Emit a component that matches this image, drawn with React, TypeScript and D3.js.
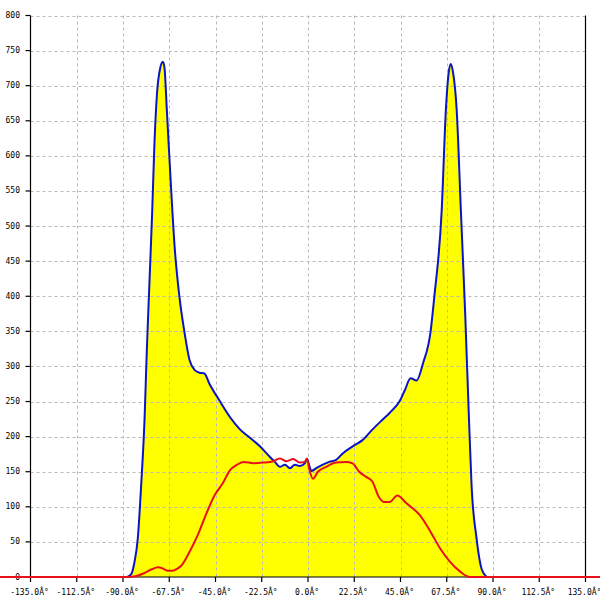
import React from "react";
import * as d3 from "d3";

// blue series: angle (deg) / count
const blueAngles = [
  -88, -86, -84.5, -82.8, -81.2, -79.5, -78.4, -77.1, -75.8, -74.7, -73.4, -71.9,
  -70.6, -69.8, -68.7, -66.9, -64.9, -62.5, -60.1, -57.7, -55.2, -52.8, -50.4,
  -47.9, -43, -38, -33, -28.1, -23.3, -18.5, -16.1, -13.7, -11.2, -8.8, -6.4, -4,
  -1.6, -0.5, 0.8, 1.6, 4, 7.2, 10.4, 13.7, 16.9, 21.7, 26.5, 31.3, 36.2, 39.8,
  44.7, 47.1, 49.9, 52.8, 56, 59.6, 61.4, 65, 67.1, 68.5, 69.5, 70.5, 72.3, 74.4,
  76.5, 78.3, 79.6, 82, 84.5, 86.9,
];
const blueValues = [
  0, 4, 20, 55, 129, 226, 324, 422, 520, 618, 691, 725, 734, 725, 667, 569, 471,
  398, 349, 310, 295, 291, 290, 275, 251, 228, 210, 198, 186, 171, 164, 157, 160,
  155, 160, 158, 162, 168, 157, 151, 155, 160, 164, 167, 176, 186, 195, 210, 224,
  234, 251, 266, 283, 280, 305, 349, 398, 520, 667, 720, 731, 720, 667, 520, 373,
  226, 129, 55, 11, 0,
];

// red series
const redAngles = [
  -150, -88, -84, -80, -76, -73, -70.5, -68.2, -66, -63.5, -61.7, -57.6, -53.6,
  -49.5, -45.5, -41.4, -38, -34.5, -31.3, -26.5, -21.7, -16.9, -13.7, -10.4, -7.2,
  -4, -1.6, -0.5, 0.5, 2.4, 4.8, 8.8, 13.7, 18.5, 21.7, 24.9, 28.1, 31.3, 34.5,
  36.9, 39.8, 43.4, 47.9, 54.4, 59.3, 64.2, 69, 73.9, 78.8, 150,
];
const redValues = [
  0, 0, 1, 5, 11, 14, 12, 9, 9, 12, 16, 36, 60, 90, 116, 134, 152, 160, 164, 162,
  163, 165, 169, 165, 168, 163, 164, 169, 155, 140, 150, 157, 163, 164, 162, 150,
  143, 136, 114, 107, 107, 116, 105, 88, 66, 41, 22, 8, 0, 0,
];

const xTicks = [-135, -112.5, -90, -67.5, -45, -22.5, 0, 22.5, 45, 67.5, 90, 112.5, 135];
const yTicks = d3.range(0, 801, 50);

const App: React.FC = () => {
  const width = 600;
  const height = 600;

  const x = d3.scaleLinear().domain([-135, 135]).range([30.5, 585.5]);
  const y = d3.scaleLinear().domain([0, 800]).range([577, 15.5]);

  const blue: [number, number][] = blueAngles.map((a, i) => [a, blueValues[i]]);
  const red: [number, number][] = redAngles.map((a, i) => [a, redValues[i]]);

  const line = d3
    .line<[number, number]>()
    .x((d) => x(d[0]))
    .y((d) => y(d[1]))
    .curve(d3.curveMonotoneX);

  const area = d3
    .area<[number, number]>()
    .x((d) => x(d[0]))
    .y0(y(0))
    .y1((d) => y(d[1]))
    .curve(d3.curveMonotoneX);

  const font = "'DejaVu Sans Mono', monospace";

  return (
    <svg
      width={width}
      height={height}
      style={{ position: "absolute", left: 0, top: 0, background: "#fff" }}
    >
      {/* fill under blue */}
      <path d={area(blue) ?? ""} fill="#ffff00" />

      {/* grid */}
      <g stroke="#b8b8b8" strokeWidth={1} strokeDasharray="3,3">
        {yTicks
          .filter((v) => v > 0)
          .map((v) => (
            <line key={v} x1={x(-135)} x2={x(135)} y1={Math.round(y(v)) + 0.5} y2={Math.round(y(v)) + 0.5} />
          ))}
        {xTicks
          .filter((v) => v > -135 && v < 135)
          .map((v) => (
            <line key={v} x1={Math.round(x(v)) + 0.5} x2={Math.round(x(v)) + 0.5} y1={y(800)} y2={y(0)} />
          ))}
      </g>

      {/* axes */}
      <g stroke="#000" strokeWidth={1.2}>
        <line x1={x(-135)} x2={x(-135)} y1={y(800)} y2={y(0)} />
        <line x1={x(135)} x2={x(135)} y1={y(800)} y2={y(0)} />
        <line x1={x(-135)} x2={x(135)} y1={y(0)} y2={y(0)} />
        {yTicks.map((v) => (
          <line key={v} x1={x(-135) - 5} x2={x(-135)} y1={y(v)} y2={y(v)} />
        ))}
        {xTicks.map((v) => (
          <line key={v} x1={x(v)} x2={x(v)} y1={y(0)} y2={y(0) + 5} />
        ))}
      </g>

      <g fontFamily={font} fontSize={8} fill="#000">
        {yTicks.map((v) => (
          <text key={v} x={20} y={y(v)} textAnchor="end" dominantBaseline="central">
            {v}
          </text>
        ))}
        {xTicks.map((v) => (
          <text key={v} x={x(v) - 1} y={595} textAnchor="middle">
            {`${v.toFixed(1)}\u00C2\u00B0`}
          </text>
        ))}
      </g>

      <path d={line(blue) ?? ""} fill="none" stroke="#0a14c8" strokeWidth={2} />
      <path d={line(red) ?? ""} fill="none" stroke="#e8101a" strokeWidth={2} />
    </svg>
  );
};

export default App;
